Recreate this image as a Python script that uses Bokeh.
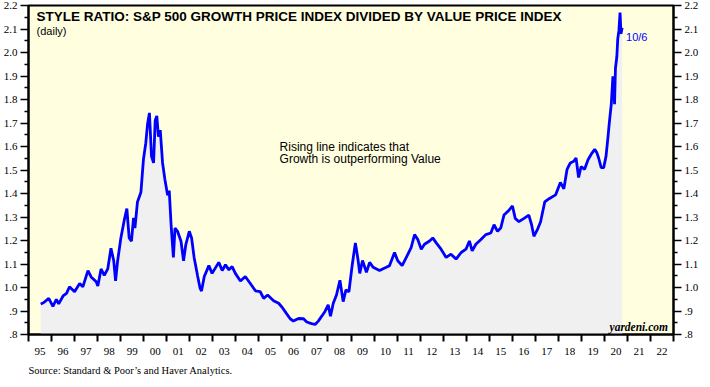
from bokeh.plotting import figure
from bokeh.models import Range1d, LinearAxis, FixedTicker, Label, Title
from bokeh.embed import file_html
from bokeh.resources import INLINE

# ---- data ----
years = [
    1995.53, 1995.65, 1995.88, 1996.06, 1996.21, 1996.31, 1996.50, 1996.65, 1996.78, 1997.00,
    1997.22, 1997.36, 1997.58, 1997.72, 1997.94, 1998.01, 1998.15, 1998.29, 1998.44, 1998.58,
    1998.70, 1998.78, 1998.87, 1999.01, 1999.16, 1999.27, 1999.37, 1999.47, 1999.56, 1999.62,
    1999.73, 1999.88, 1999.99, 2000.09, 2000.17, 2000.25, 2000.34, 2000.43, 2000.50, 2000.57,
    2000.64, 2000.72, 2000.82, 2000.92, 2001.04, 2001.11, 2001.19, 2001.29, 2001.36, 2001.47,
    2001.62, 2001.73, 2001.83, 2001.98, 2002.08, 2002.19, 2002.34, 2002.45, 2002.51, 2002.63,
    2002.83, 2002.97, 2003.26, 2003.41, 2003.55, 2003.70, 2003.84, 2003.98, 2004.20, 2004.41,
    2004.63, 2004.85, 2005.06, 2005.21, 2005.38, 2005.64, 2005.86, 2006.04, 2006.18, 2006.36,
    2006.50, 2006.72, 2006.94, 2007.08, 2007.29, 2007.44, 2007.58, 2007.73, 2007.87, 2008.01,
    2008.11, 2008.23, 2008.37, 2008.52, 2008.66, 2008.78, 2008.91, 2009.04, 2009.12, 2009.19,
    2009.31, 2009.38, 2009.50, 2009.67, 2009.81, 2009.96, 2010.24, 2010.53, 2010.67, 2010.89,
    2011.03, 2011.22, 2011.40, 2011.61, 2011.76, 2011.90, 2012.05, 2012.19, 2012.41, 2012.55,
    2012.70, 2012.91, 2013.13, 2013.34, 2013.56, 2013.78, 2013.99, 2014.14, 2014.26, 2014.42,
    2014.64, 2014.85, 2015.07, 2015.21, 2015.36, 2015.50, 2015.64, 2015.86, 2016.01, 2016.13,
    2016.29, 2016.51, 2016.72, 2016.84, 2016.94, 2017.09, 2017.23, 2017.41, 2017.60, 2017.88,
    2018.09, 2018.24, 2018.38, 2018.52, 2018.67, 2018.77, 2018.88, 2018.99, 2019.14, 2019.29,
    2019.46, 2019.58, 2019.68, 2019.75, 2019.86, 2019.97, 2020.07, 2020.15, 2020.21, 2020.30,
    2020.37, 2020.42, 2020.44, 2020.48, 2020.54, 2020.58, 2020.63, 2020.68, 2020.72, 2020.77,
]
ratio = [
    0.930, 0.935, 0.954, 0.920, 0.950, 0.930, 0.964, 0.975, 1.003, 0.982,
    1.017, 1.003, 1.072, 1.045, 1.024, 1.006, 1.079, 1.052, 1.079, 1.167,
    1.114, 1.028, 1.114, 1.211, 1.288, 1.336, 1.211, 1.197, 1.296, 1.253,
    1.364, 1.405, 1.545, 1.614, 1.697, 1.743, 1.558, 1.530, 1.711, 1.730,
    1.642, 1.670, 1.530, 1.461, 1.392, 1.412, 1.267, 1.128, 1.253, 1.239,
    1.197, 1.114, 1.183, 1.239, 1.211, 1.128, 1.050, 0.996, 0.985, 1.047,
    1.093, 1.060, 1.107, 1.072, 1.097, 1.075, 1.089, 1.060, 1.028, 1.047,
    1.017, 0.986, 0.982, 0.954, 0.968, 0.944, 0.933, 0.912, 0.892, 0.867,
    0.857, 0.868, 0.867, 0.853, 0.846, 0.843, 0.857, 0.878, 0.898, 0.926,
    0.878, 0.933, 0.968, 1.031, 0.940, 0.990, 0.982, 1.086, 1.142, 1.190,
    1.115, 1.060, 1.115, 1.065, 1.107, 1.086, 1.072, 1.086, 1.093, 1.149,
    1.114, 1.093, 1.128, 1.170, 1.225, 1.204, 1.163, 1.184, 1.198, 1.211,
    1.190, 1.163, 1.128, 1.142, 1.121, 1.149, 1.163, 1.198, 1.156, 1.184,
    1.204, 1.225, 1.232, 1.267, 1.239, 1.253, 1.308, 1.329, 1.347, 1.294,
    1.280, 1.294, 1.308, 1.267, 1.218, 1.246, 1.280, 1.364, 1.378, 1.394,
    1.447, 1.420, 1.503, 1.530, 1.537, 1.551, 1.468, 1.515, 1.503, 1.544,
    1.572, 1.588, 1.572, 1.551, 1.510, 1.510, 1.558, 1.635, 1.697, 1.781,
    1.899, 1.850, 1.780, 1.933, 1.982, 2.058, 2.093, 2.170, 2.080, 2.105,
]

year_starts = list(range(1995, 2024))
year_labels = ["95", "96", "97", "98", "99", "00", "01", "02", "03", "04", "05", "06", "07",
               "08", "09", "10", "11", "12", "13", "14", "15", "16", "17", "18", "19", "20",
               "21", "22"]
y_ticks = [0.8, 0.9, 1.0, 1.1, 1.2, 1.3, 1.4, 1.5, 1.6, 1.7, 1.8, 1.9, 2.0, 2.1, 2.2]
y_labels = [".8", ".9", "1.0", "1.1", "1.2", "1.3", "1.4", "1.5", "1.6", "1.7", "1.8",
            "1.9", "2.0", "2.1", "2.2"]
y_minor = [0.85, 0.95, 1.05, 1.15, 1.25, 1.35, 1.45, 1.55, 1.65, 1.75, 1.85, 1.95, 2.05, 2.15]

title_text = "STYLE RATIO: S&P 500 GROWTH PRICE INDEX DIVIDED BY VALUE PRICE INDEX"
subtitle_text = "(daily)"
note_lines = ["Rising line indicates that", "Growth is outperforming Value"]
end_label = "10/6"
source_text = "Source: Standard & Poor\u2019s and Haver Analytics."
brand_text = "yardeni.com"

SERIF = "Liberation Serif"
SANS = "Liberation Sans"

p = figure(frame_width=645, frame_height=329, output_backend="svg", toolbar_location=None,
           x_range=Range1d(1995, 2023), y_range=Range1d(0.8, 2.2),
           min_border_top=5, min_border_left=23, min_border_right=0, min_border_bottom=0)
p.background_fill_color = "#FFFFE0"
p.border_fill_color = "white"
p.outline_line_color = "black"
p.outline_line_width = 2
p.xgrid.visible = False
p.ygrid.visible = False

# area under the line and the line
p.varea(x=years, y1=[y_ticks[0]] * len(years), y2=ratio, fill_color="#F0F0F0")
p.line(x=years, y=ratio, line_color="#0000FF", line_width=2.8)

# x axis: labels at mid-year, ticks at year boundaries (minor ticks)
mid_years = [y + 0.5 for y in year_starts[:-1]]
xax = p.xaxis[0]
xax.ticker = FixedTicker(ticks=mid_years, minor_ticks=year_starts)
xax.major_label_overrides = {m: l for m, l in zip(mid_years, year_labels)}
xax.major_tick_out = 0
xax.major_tick_in = 0
xax.minor_tick_out = 7
xax.minor_tick_in = 0
xax.minor_tick_line_width = 2
xax.minor_tick_line_color = "black"
xax.axis_line_width = 2
xax.axis_line_color = "black"
xax.major_label_text_font = SERIF
xax.major_label_text_font_size = "11px"
xax.major_label_text_color = "black"
xax.major_label_standoff = 6

def style_y(ax):
    ax.ticker = FixedTicker(ticks=y_ticks, minor_ticks=y_minor)
    ax.major_label_overrides = {t: l for t, l in zip(y_ticks, y_labels)}
    ax.major_tick_out = 8
    ax.major_tick_in = 0
    ax.minor_tick_out = 4
    ax.minor_tick_in = 0
    ax.major_tick_line_width = 1.5
    ax.minor_tick_line_width = 1.5
    ax.major_tick_line_color = "black"
    ax.minor_tick_line_color = "black"
    ax.axis_line_width = 2
    ax.axis_line_color = "black"
    ax.major_label_text_font = SERIF
    ax.major_label_text_font_size = "11px"
    ax.major_label_text_color = "black"
    ax.major_label_standoff = 3

style_y(p.yaxis[0])
right_axis = LinearAxis()
style_y(right_axis)
p.add_layout(right_axis, "right")

# texts
p.add_layout(Label(x=1995.35, y=2.154, text=title_text, text_font=SANS, text_font_style="bold",
                   text_font_size="13.5px", text_baseline="middle", text_color="black"))
p.add_layout(Label(x=1995.35, y=2.092, text=subtitle_text, text_font=SANS,
                   text_font_size="11px", text_baseline="middle", text_color="black"))
p.add_layout(Label(x=2005.9, y=1.597, text=note_lines[0], text_font=SANS,
                   text_font_size="12px", text_baseline="middle", text_color="black"))
p.add_layout(Label(x=2005.9, y=1.547, text=note_lines[1], text_font=SANS,
                   text_font_size="12px", text_baseline="middle", text_color="black"))
p.add_layout(Label(x=years[-1] + 0.17, y=2.065, text=end_label, text_font=SANS,
                   text_font_size="11px", text_baseline="middle", text_color="#0000FF"))
p.add_layout(Label(x=2022.76, y=0.833, text=brand_text, text_font=SERIF,
                   text_font_style="bold italic", text_font_size="11.5px",
                   text_baseline="middle", text_align="right", text_color="black"))

# source line below the axis
src = Title(text=source_text, align="left", text_font=SERIF, text_font_size="10.5px",
            text_font_style="normal", text_color="black", standoff=10, offset=0)
p.add_layout(src, "below")

open("out.html", "w").write(file_html(p, INLINE))
